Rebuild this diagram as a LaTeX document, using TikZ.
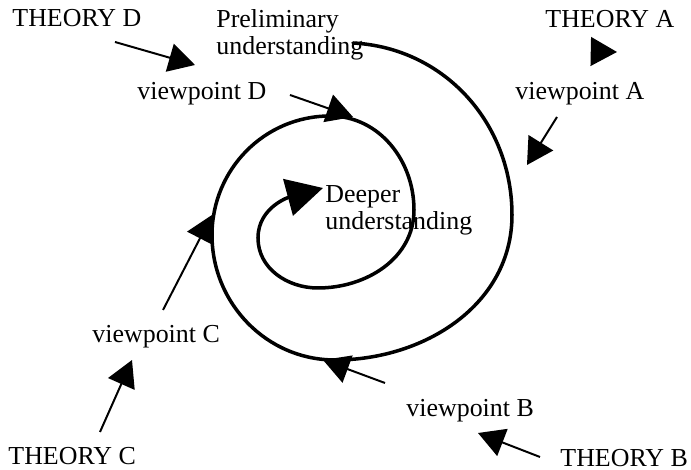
\documentclass[tikz,border=0pt]{standalone}
\usepackage{fontspec}
\setmainfont{Liberation Serif}
\usetikzlibrary{arrows.meta}

\begin{document}
\begin{tikzpicture}[
		x=0.016cm, y=-0.016cm,
		word/.style={font=\fontsize{11.8}{12.7}\selectfont, anchor=base west, inner sep=0pt},
		twoline/.style={word, align=left},
		pointer/.style={line width=0.9pt, -{Triangle[length=0.42cm, width=0.46cm]}},
		spiral/.style={line width=1.6pt, line cap=round, -{Triangle[length=0.58cm, width=0.6cm]}}
		]
		\useasboundingbox (0,0) rectangle (691,470);
		
		% ==========================================
		% 1. Theories and viewpoints
		% ==========================================
		\node[word] (thD) at (12,27) {THEORY D};
		\node[word] (thA) at (545,28) {THEORY A};
		\node[word] (thC) at (8,465) {THEORY C};
		\node[word] (thB) at (560,467) {THEORY B};
		
		\node[word] (vpD) at (137,100) {viewpoint D};
		\node[word] (vpA) at (515,100) {viewpoint A};
		\node[word] (vpC) at (92,343) {viewpoint C};
		\node[word] (vpB) at (406,417) {viewpoint B};
		
		% base of a two-line node sits on its last line
		\node[twoline] (prelim) at (216,55) {Preliminary\\understanding};
		\node[twoline] (deeper) at (325,230) {Deeper\\understanding};
		
		% ==========================================
		% 2. The spiral, from outside to inside
		% ==========================================
		\coordinate (s0) at (353,43);
		\coordinate (s1) at (512,215);
		\coordinate (s2) at (335,360);
		\coordinate (s3) at (212,235);
		\coordinate (s4) at (330,116);
		\coordinate (s5) at (414,210);
		\coordinate (s6) at (318,288);
		\coordinate (s7) at (258,238);
		\coordinate (s8) at (323,188);
		
		\draw[spiral] (s0) to[out=-3, in=90] (s1) to[out=-90, in=0] (s2)
			to[out=180, in=-90] (s3) to[out=90, in=180] (s4)
			to[out=0, in=90] (s5) to[out=-90, in=0] (s6)
			to[out=180, in=-90] (s7) to[out=90, in=195] (s8);
		
		% ==========================================
		% 3. Pointers
		% ==========================================
		\coordinate (tD1) at (115,42);  \coordinate (tD2) at (195,65);
		\coordinate (vD1) at (290,95);  \coordinate (vD2) at (353,117);
		\coordinate (tA1) at (591,51.5);\coordinate (tA2) at (617,52);
		\coordinate (vA1) at (557,117); \coordinate (vA2) at (527,165);
		\coordinate (vB1) at (385,383); \coordinate (vB2) at (323,360);
		\coordinate (tB1) at (540,457); \coordinate (tB2) at (478,433);
		\coordinate (vC1) at (163,310); \coordinate (vC2) at (212,215);
		\coordinate (tC1) at (100,432); \coordinate (tC2) at (132,360);
		
		\draw[pointer] (tD1) -- (tD2);
		\draw[pointer] (vD1) -- (vD2);
		\draw[pointer] (tA1) -- (tA2);
		\draw[pointer] (vA1) -- (vA2);
		\draw[pointer] (vB1) -- (vB2);
		\draw[pointer] (tB1) -- (tB2);
		\draw[pointer] (vC1) -- (vC2);
		\draw[pointer] (tC1) -- (tC2);
		
	\end{tikzpicture}
\end{document}
